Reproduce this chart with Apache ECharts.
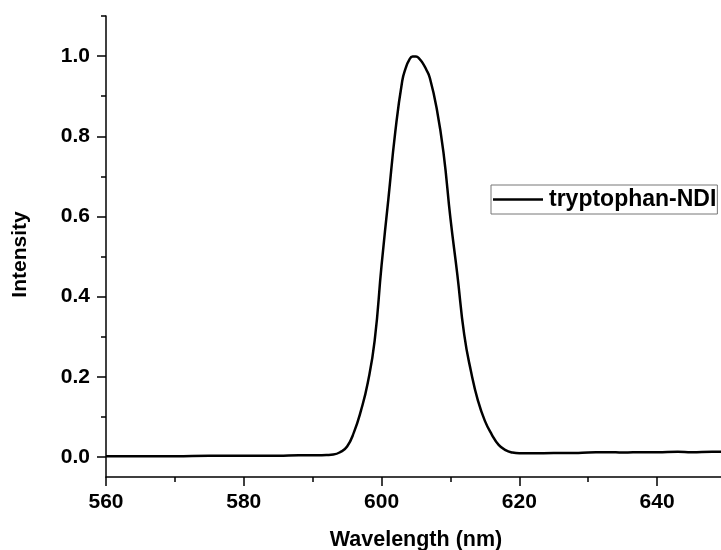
<!DOCTYPE html>
<html>
<head>
<meta charset="utf-8">
<script src="https://cdn.jsdelivr.net/npm/echarts@6/dist/echarts.min.js"></script>
<style>
  html, body { margin: 0; padding: 0; background: #fff; }
  #chart { width: 721px; height: 550px; }
</style>
</head>
<body>
<div id="chart"></div>
<script>
// Emission spectrum: wavelength (nm) and normalised intensity
const wavelength = [
  560, 565, 570, 575, 580, 585, 588, 590, 592, 593, 594, 595, 596, 597, 598, 599,
  600, 601, 602, 603, 603.5, 604, 604.5, 605, 605.5, 606, 606.5, 607, 608, 609, 610,
  611, 612, 613, 614, 615, 616, 617, 618, 619, 620, 621, 622, 625, 628, 630, 633,
  635, 638, 640, 643, 645, 648, 650
];
const intensity = [
  0.002, 0.002, 0.002, 0.003, 0.003, 0.003, 0.004, 0.004, 0.005, 0.006, 0.012, 0.026,
  0.062, 0.115, 0.185, 0.290, 0.478, 0.645, 0.812, 0.938, 0.970, 0.990, 0.999, 0.999,
  0.993, 0.982, 0.966, 0.946, 0.870, 0.758, 0.595, 0.455, 0.305, 0.212, 0.140, 0.090,
  0.056, 0.030, 0.017, 0.011, 0.009, 0.009, 0.009, 0.010, 0.010, 0.011, 0.012, 0.011,
  0.012, 0.012, 0.013, 0.012, 0.013, 0.013
];
const seriesName = 'tryptophan-NDI';
const yMajorTicks = [0, 0.2, 0.4, 0.6, 0.8, 1.0];
const yMinorTicks = [0.1, 0.3, 0.5, 0.7, 0.9, 1.1];

const points = wavelength.map((w, i) => [w, intensity[i]]);

const font = 'Liberation Sans, Arial, Helvetica, sans-serif';
const ink = '#000';

const chart = echarts.init(document.getElementById('chart'));
chart.setOption({
  animation: false,
  backgroundColor: '#fff',
  grid: { left: 106, top: 16, right: -5, bottom: 73, containLabel: false, outerBoundsMode: 'none' },
  legend: {
    data: [{ name: seriesName, icon: 'rect' }],
    left: 491,
    top: 185,
    padding: [3, 1, 3, 2],
    itemWidth: 50,
    itemHeight: 2.5,
    itemGap: 0,
    borderColor: '#777',
    borderWidth: 1,
    textStyle: { fontFamily: font, fontWeight: 'bold', fontSize: 23, color: ink, padding: [0, 0, 0, 1] }
  },
  xAxis: {
    type: 'value',
    min: 560,
    max: 650,
    interval: 20,
    name: 'Wavelength (nm)',
    nameLocation: 'middle',
    nameGap: 52,
    nameTextStyle: { fontFamily: font, fontWeight: 'bold', fontSize: 21.5, color: ink },
    axisLine: { onZero: false, lineStyle: { color: ink, width: 1.5 } },
    axisTick: { inside: false, length: 9, lineStyle: { color: ink, width: 1.5 } },
    minorTick: { show: true, splitNumber: 2, length: 5, lineStyle: { color: ink, width: 1.5 } },
    axisLabel: { fontFamily: font, fontWeight: 'bold', fontSize: 21, color: ink, margin: 15,
      showMaxLabel: false },
    splitLine: { show: false },
    minorSplitLine: { show: false }
  },
  yAxis: [
    {
      type: 'value',
      min: -0.05,
      max: 1.1,
      name: 'Intensity',
      nameLocation: 'middle',
      nameGap: 75,
      nameTextStyle: { fontFamily: font, fontWeight: 'bold', fontSize: 21, color: ink, padding: [0, 16, 0, 0] },
      axisLine: { show: true, onZero: false, lineStyle: { color: ink, width: 1.5 } },
      axisTick: { show: true, length: 9, customValues: yMajorTicks, lineStyle: { color: ink, width: 1.5 } },
      axisLabel: { fontFamily: font, fontWeight: 'bold', fontSize: 21, color: ink, margin: 16,
        customValues: yMajorTicks, formatter: v => v.toFixed(1) },
      splitLine: { show: false }
    },
    {
      type: 'value',
      min: -0.05,
      max: 1.1,
      position: 'left',
      axisLine: { show: false, onZero: false },
      axisTick: { show: true, length: 5, customValues: yMinorTicks, lineStyle: { color: ink, width: 1.5 } },
      axisLabel: { show: false },
      splitLine: { show: false }
    }
  ],
  series: [{
    name: seriesName,
    type: 'line',
    data: points,
    yAxisIndex: 0,
    symbol: 'none',
    smooth: 0.5,
    lineStyle: { color: ink, width: 2.5 },
    itemStyle: { color: ink }
  }]
});
</script>
</body>
</html>
